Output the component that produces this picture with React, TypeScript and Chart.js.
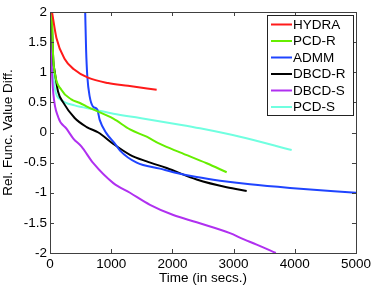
import React, { useEffect, useRef } from "react";
import { Chart, registerables } from "chart.js";

Chart.register(...registerables);

const xTicks = [0, 1000, 2000, 3000, 4000, 5000];
const yTicks = [-2, -1.5, -1, -0.5, 0, 0.5, 1, 1.5, 2];

const seriesNames = ["HYDRA", "PCD-R", "ADMM", "DBCD-R", "DBCD-S", "PCD-S"];
const seriesColors = ["#ff1a1a", "#66ee00", "#1f44ff", "#000000", "#b030f0", "#70ffe0"];

const hydraX = [33, 105, 240, 390, 621, 948, 1275, 1743];
const hydraY = [2.0, 1.57, 1.22, 1.05, 0.91, 0.82, 0.775, 0.71];

const pcdRX = [30, 50, 76, 185, 348, 490, 621, 1035, 1307, 1580, 1797, 2124, 2560, 2887];
const pcdRY = [2.0, 1.3, 1.0, 0.71, 0.55, 0.49, 0.42, 0.23, 0.05, -0.07, -0.19, -0.33, -0.51, -0.66];

const admmX = [575, 590, 610, 648, 703, 773, 812, 920, 1057, 1144, 1417, 1797, 2015, 2397, 2778, 3268, 3922, 5000];
const admmY = [2.0, 1.37, 0.93, 0.60, 0.43, 0.38, 0.21, -0.01, -0.18, -0.30, -0.50, -0.60, -0.66, -0.74, -0.80, -0.86, -0.92, -1.0];

const dbcdRX = [25, 54, 76, 131, 215, 403, 600, 790, 1035, 1307, 1580, 1907, 2397, 2887, 3214];
const dbcdRY = [2.0, 1.2, 1.02, 0.68, 0.50, 0.24, 0.09, 0.0, -0.19, -0.37, -0.48, -0.59, -0.78, -0.91, -0.97];

const dbcdSX = [0, 28, 54, 136, 272, 381, 512, 708, 1035, 1307, 1634, 2015, 2397, 2941, 3159, 3377, 3690];
const dbcdSY = [2.0, 1.10, 0.65, 0.25, 0.06, -0.10, -0.23, -0.51, -0.84, -1.0, -1.20, -1.37, -1.49, -1.67, -1.77, -1.86, -2.0];

const pcdSX = [0, 40, 76, 185, 403, 730, 1035, 1470, 2124, 2451, 3105, 3949];
const pcdSY = [2.0, 1.2, 0.75, 0.54, 0.45, 0.38, 0.31, 0.24, 0.13, 0.07, -0.07, -0.29];

const allX = [hydraX, pcdRX, admmX, dbcdRX, dbcdSX, pcdSX];
const allY = [hydraY, pcdRY, admmY, dbcdRY, dbcdSY, pcdSY];

const FONT = "'Liberation Sans', Arial, Helvetica, sans-serif";
const FS = 13.5;

const framePlugin = {
  id: "frameTicks",
  afterDraw(chart: any) {
    const { ctx, chartArea } = chart;
    const { left, right, top, bottom } = chartArea;
    const xs = chart.scales.x;
    const ys = chart.scales.y;
    ctx.save();
    ctx.strokeStyle = "#404040";
    ctx.lineWidth = 1;
    ctx.strokeRect(Math.round(left) + 0.5, Math.round(top) + 0.5, Math.round(right - left), Math.round(bottom - top));
    const L = 4;
    ctx.beginPath();
    for (const v of xTicks) {
      const p = Math.round(xs.getPixelForValue(v)) + 0.5;
      ctx.moveTo(p, bottom);
      ctx.lineTo(p, bottom - L);
      ctx.moveTo(p, top);
      ctx.lineTo(p, top + L);
    }
    for (const v of yTicks) {
      const p = Math.round(ys.getPixelForValue(v)) + 0.5;
      ctx.moveTo(left, p);
      ctx.lineTo(left + L, p);
      ctx.moveTo(right, p);
      ctx.lineTo(right - L, p);
    }
    ctx.stroke();

    // legend
    const bx = 267, by = 15, bw = 86, bh = 100;
    ctx.fillStyle = "#ffffff";
    ctx.fillRect(bx, by, bw, bh);
    ctx.strokeStyle = "#222";
    ctx.strokeRect(bx + 0.5, by + 0.5, bw, bh);
    ctx.font = `${FS}px ${FONT}`;
    ctx.textBaseline = "middle";
    ctx.textAlign = "left";
    chart.data.datasets.forEach((ds: any, i: number) => {
      const cy = by + 9.5 + i * 16.5;
      ctx.strokeStyle = ds.borderColor;
      ctx.lineWidth = 2;
      ctx.beginPath();
      ctx.moveTo(bx + 4, cy);
      ctx.lineTo(bx + 25, cy);
      ctx.stroke();
      ctx.fillStyle = "#000";
      ctx.fillText(ds.label, bx + 26, cy + 0.5);
    });
    ctx.restore();
  },
};

export default function App() {
  const ref = useRef<HTMLCanvasElement>(null);
  useEffect(() => {
    const canvas = ref.current!;
    const datasets = seriesNames.map((name, i) => ({
      label: name,
      data: allX[i].map((x, j) => ({ x, y: allY[i][j] })),
      borderColor: seriesColors[i],
      backgroundColor: seriesColors[i],
      borderWidth: 2,
      pointRadius: 0,
      cubicInterpolationMode: "monotone",
      fill: false,
    }));
    const chart = new Chart(canvas, {
      type: "line",
      data: { datasets },
      plugins: [framePlugin],
      options: {
        animation: false,
        responsive: false,
        maintainAspectRatio: false,
        layout: { padding: { left: 0, top: 12, right: 18, bottom: 0 } },
        plugins: { legend: { display: false }, tooltip: { enabled: false } },
        scales: {
          x: {
            type: "linear",
            min: 0,
            max: 5000,
            afterBuildTicks: (s: any) => {
              s.ticks = xTicks.map((v) => ({ value: v }));
            },
            afterFit: (s: any) => {
              s.height = 33;
            },
            grid: { display: false, drawTicks: false },
            border: { display: false },
            ticks: {
              color: "#000",
              font: { family: FONT, size: FS },
              padding: 3,
              maxRotation: 0,
              callback: (v: any) => String(v),
            },
            title: {
              display: true,
              text: "Time (in secs.)",
              color: "#000",
              font: { family: FONT, size: FS },
              padding: { top: -2, bottom: 0 },
            },
          },
          y: {
            type: "linear",
            min: -2,
            max: 2,
            afterBuildTicks: (s: any) => {
              s.ticks = yTicks.map((v) => ({ value: v }));
            },
            afterFit: (s: any) => {
              s.width = 50;
            },
            grid: { display: false, drawTicks: false },
            border: { display: false },
            ticks: {
              color: "#000",
              font: { family: FONT, size: FS },
              padding: 3,
              callback: (v: any) => String(v),
            },
            title: {
              display: true,
              text: "Rel. Func. Value Diff.",
              color: "#000",
              font: { family: FONT, size: FS },
              padding: { top: 0, bottom: 0 },
            },
          },
        },
      } as any,
    });
    return () => chart.destroy();
  }, []);
  return (
    <div style={{ position: "fixed", left: 0, top: 0, width: 374, height: 286, background: "#fff" }}>
      <canvas ref={ref} width={374} height={286} style={{ display: "block", width: 374, height: 286 }} />
    </div>
  );
}
